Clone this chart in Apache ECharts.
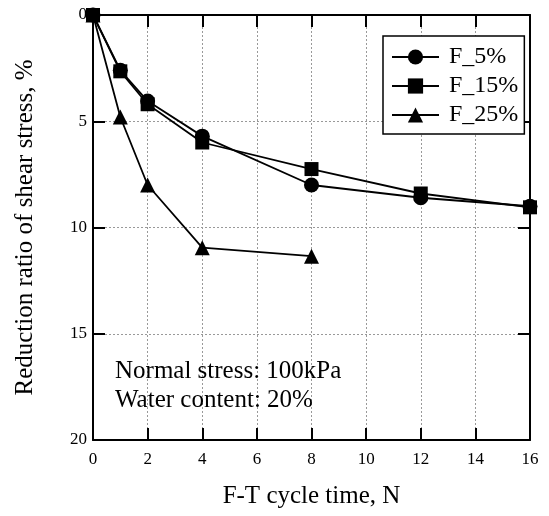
<!DOCTYPE html>
<html>
<head>
<meta charset="utf-8">
<script src="https://cdn.jsdelivr.net/npm/echarts@6/dist/echarts.min.js"></script>
<style>
  html, body { margin: 0; padding: 0; background: #fff; }
  #chart { width: 549px; height: 516px; }
</style>
</head>
<body>
<div id="chart"></div>
<script>
const cycles = [0, 1, 2, 4, 8, 12, 16];
const cycles25 = [0, 1, 2, 4, 8];
const f5 = [0, 2.6, 4.05, 5.7, 8.0, 8.6, 9.0];
const f15 = [0, 2.65, 4.2, 6.0, 7.25, 8.4, 9.05];
const f25 = [0, 4.8, 8.0, 10.95, 11.35];
const seriesNames = ['F_5%', 'F_15%', 'F_25%'];
const noteLines = ['Normal stress: 100kPa', 'Water content: 20%'];

const font = 'Liberation Serif, Times New Roman, serif';
const pair = (xs, ys) => xs.map((x, i) => [x, ys[i]]);

const chart = echarts.init(document.getElementById('chart'));

const tickStyle = { inside: true, length: 12, lineStyle: { color: '#000', width: 2 } };
const gridLine = { show: true, lineStyle: { color: '#999', type: [2, 2], width: 1 } };

const lineSeries = (name, data, symbol, size) => ({
  name,
  type: 'line',
  data,
  symbol,
  symbolSize: size,
  itemStyle: { color: '#000' },
  lineStyle: { color: '#000', width: 1.8 },
  xAxisIndex: 0,
  yAxisIndex: 0,
  z: 5
});

const option = {
  animation: false,
  backgroundColor: '#fff',
  grid: { left: 93, right: 19, top: 15, bottom: 76, containLabel: false },
  legend: {
    orient: 'vertical',
    left: 383,
    top: 36,
    itemWidth: 47,
    itemHeight: 19,
    itemGap: 5,
    padding: [9, 6, 7, 8],
    borderColor: '#000',
    borderWidth: 1.5,
    backgroundColor: '#fff',
    textStyle: { fontFamily: font, fontSize: 24, color: '#000', padding: [0, 0, 0, 5] },
    data: seriesNames
  },
  xAxis: [
    {
      type: 'value', min: 0, max: 16, interval: 2,
      name: 'F-T cycle time, N', nameLocation: 'middle', nameGap: 44,
      nameTextStyle: { fontFamily: font, fontSize: 25, color: '#000' },
      axisLine: { show: true, onZero: false, lineStyle: { color: '#000', width: 2 } },
      axisTick: tickStyle,
      axisLabel: { fontFamily: font, fontSize: 17, color: '#000', margin: 11 },
      splitLine: gridLine
    },
    {
      type: 'value', min: 0, max: 16, interval: 2, position: 'top',
      axisLine: { show: true, onZero: false, lineStyle: { color: '#000', width: 2 } },
      axisTick: tickStyle,
      axisLabel: { show: false },
      splitLine: { show: false }
    }
  ],
  yAxis: [
    {
      type: 'value', min: 0, max: 20, interval: 5, inverse: true,
      name: 'Reduction ratio of shear stress, %', nameLocation: 'middle', nameGap: 55,
      nameTextStyle: { fontFamily: font, fontSize: 25, color: '#000' },
      axisLine: { show: true, onZero: false, lineStyle: { color: '#000', width: 2 } },
      axisTick: tickStyle,
      axisLabel: { fontFamily: font, fontSize: 17, color: '#000', margin: 6 },
      splitLine: gridLine
    },
    {
      type: 'value', min: 0, max: 20, interval: 5, inverse: true, position: 'right',
      axisLine: { show: true, onZero: false, lineStyle: { color: '#000', width: 2 } },
      axisTick: tickStyle,
      axisLabel: { show: false },
      splitLine: { show: false }
    }
  ],
  graphic: noteLines.map((t, i) => ({
    type: 'text',
    left: 115,
    top: 359 + i * 29,
    style: { text: t, font: '25px ' + font, fill: '#000' },
    z: 10
  })),
  series: [
    lineSeries(seriesNames[0], pair(cycles, f5), 'circle', 15),
    lineSeries(seriesNames[1], pair(cycles, f15), 'rect', 14),
    lineSeries(seriesNames[2], pair(cycles25, f25), 'triangle', 15)
  ]
};

chart.setOption(option);
window.onresize = () => chart.resize();
</script>
</body>
</html>
